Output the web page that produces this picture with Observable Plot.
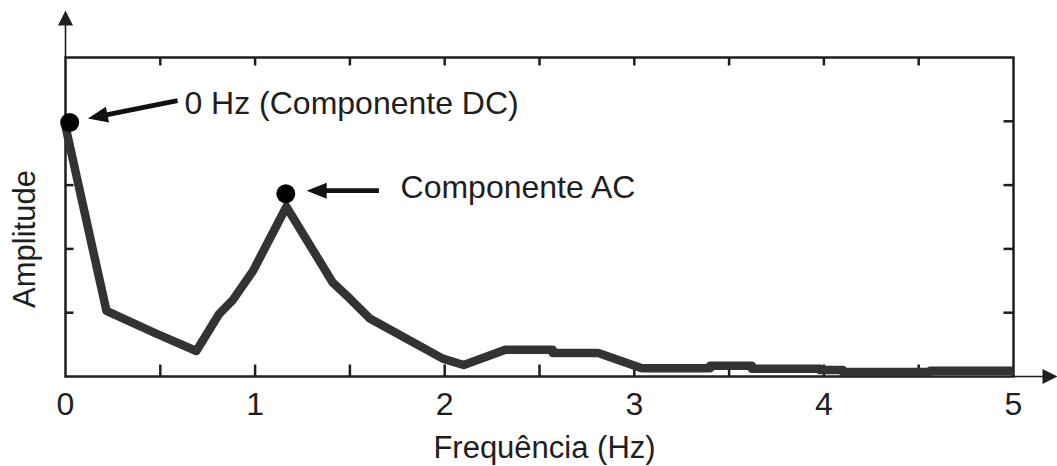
<!DOCTYPE html>
<html><head><meta charset="utf-8">
<script src="https://cdn.jsdelivr.net/npm/d3@7"></script>
<script src="https://cdn.jsdelivr.net/npm/@observablehq/plot@0.6"></script>
<style>body{margin:0;background:#fff;}</style>
</head><body><div id="chart"></div>
<script>
// Spectrum curve
const freq = [0, 0.216, 0.48, 0.69, 0.81, 0.88, 0.99, 1.165, 1.41, 1.50, 1.605, 1.99, 2.10, 2.32, 2.57, 2.57, 2.81, 3.04, 3.40, 3.40, 3.62, 3.62, 3.98, 3.98, 4.10, 4.10, 4.56, 4.56, 5.0];
const amp  = [3.92, 1.03, 0.67, 0.40, 0.98, 1.19, 1.66, 2.66, 1.47, 1.22, 0.91, 0.28, 0.18, 0.42, 0.42, 0.37, 0.37, 0.13, 0.13, 0.17, 0.17, 0.12, 0.12, 0.10, 0.10, 0.07, 0.07, 0.09, 0.09];
// Highlighted points
const dotFreq = [0.022, 1.162];
const dotAmp = [3.98, 2.865];
// Annotations
const labels = ["0 Hz (Componente DC)", "Componente AC"];
const labelFreq = [0.627, 1.767];
const labelAmp = [4.278, 2.962];
const arrowTipFreq = [0.118, 1.272];
const arrowTipAmp = [4.042, 2.912];
const arrowTailFreq = [0.591, 1.653];
const arrowTailAmp = [4.325, 2.912];
// Axes
const xTickLabels = [0, 1, 2, 3, 4, 5];
const xMinorTicks = [0.5, 1, 1.5, 2, 2.5, 3, 3.5, 4, 4.5];
const yMinorTicks = [1, 2, 3, 4];
const xLabel = "Frequência (Hz)";
const yLabel = "Amplitude";

const W = 1057, H = 466;
const M = {top: 57, right: 44, bottom: 90, left: 65};
const kx = (W - M.left - M.right) / 5;
const ky = (H - M.top - M.bottom) / 5;
const ink = "#1e1e1e";
const font = "Arial, 'Liberation Sans', Helvetica, sans-serif";

function arrowShape(shaft, headLen, headHalf) {
  return {draw(c, l) {
    c.moveTo(-shaft, 0);
    c.lineTo(-shaft, -l + headLen);
    c.lineTo(-headHalf, -l + headLen);
    c.lineTo(0, -l);
    c.lineTo(headHalf, -l + headLen);
    c.lineTo(shaft, -l + headLen);
    c.lineTo(shaft, 0);
    c.closePath();
  }};
}
const lineShape = {draw(c, l) { c.moveTo(0, 0); c.lineTo(0, -l); }};

const curve = freq.map((f, i) => ({f, a: amp[i]}));
const dots = dotFreq.map((f, i) => ({f, a: dotAmp[i]}));

const annArrows = arrowTipFreq.map((fx, i) => {
  const vx = (fx - arrowTailFreq[i]) * kx;
  const vy = -(arrowTipAmp[i] - arrowTailAmp[i]) * ky;
  const len = Math.hypot(vx, vy);
  const rot = Math.atan2(vx, -vy) * 180 / Math.PI;
  return Plot.vector([{f: fx, a: arrowTipAmp[i]}], {
    x: "f", y: "a", length: len, rotate: rot, anchor: "end",
    shape: arrowShape(2.4, 20, 8), fill: "#111", stroke: "none"
  });
});

const tickStyle = {shape: lineShape, anchor: "start", stroke: ink, strokeWidth: 2.5, strokeLinecap: "butt", fill: "none"};

const chart = Plot.plot({
  width: W, height: H,
  marginTop: M.top, marginRight: M.right, marginBottom: M.bottom, marginLeft: M.left,
  x: {domain: [0, 5], axis: null},
  y: {domain: [0, 5], axis: null},
  style: {fontFamily: font, background: "#fff", color: ink, overflow: "visible"},
  marks: [
    Plot.frame({stroke: ink, strokeWidth: 2.5}),
    // inward ticks
    Plot.vector(xMinorTicks, {...tickStyle, x: d => d, frameAnchor: "bottom", length: 12, rotate: 0}),
    Plot.vector(xMinorTicks, {...tickStyle, x: d => d, frameAnchor: "top", length: 8, rotate: 180}),
    Plot.vector(yMinorTicks, {...tickStyle, y: d => d, frameAnchor: "left", length: 8, rotate: 90}),
    Plot.vector(yMinorTicks, {...tickStyle, y: d => d, frameAnchor: "right", length: 10, rotate: -90}),
    // axis arrows
    Plot.vector([0], {frameAnchor: "top-left", length: 47, rotate: 0, anchor: "start", shape: arrowShape(0.8, 15, 7.5), fill: ink, stroke: "none"}),
    Plot.vector([0], {frameAnchor: "bottom-right", length: 44, rotate: 90, anchor: "start", shape: arrowShape(0.8, 15, 7.5), fill: ink, stroke: "none"}),
    // curve
    Plot.line(curve, {x: "f", y: "a", stroke: "#333", strokeWidth: 8.5, strokeLinejoin: "round", strokeLinecap: "butt"}),
    Plot.dot(dots, {x: "f", y: "a", r: 9.5, fill: "#000", stroke: "none"}),
    ...annArrows,
    Plot.text(labels, {x: (d, i) => labelFreq[i], y: (d, i) => labelAmp[i], text: d => d, textAnchor: "start", lineAnchor: "middle", fontSize: 32, fill: ink}),
    // tick labels
    Plot.text(xTickLabels, {x: d => d, text: d => `${d}`, frameAnchor: "bottom", lineAnchor: "top", dy: 16, fontSize: 32, fill: ink}),
    // axis titles
    Plot.text([xLabel], {text: d => d, frameAnchor: "bottom", textAnchor: "middle", lineAnchor: "middle", dy: 72, dx: 5, fontSize: 31, fill: ink}),
    Plot.text([yLabel], {text: d => d, frameAnchor: "left", textAnchor: "middle", lineAnchor: "middle", rotate: -90, dx: -40, dy: 22, fontSize: 31, fill: ink})
  ]
});
document.getElementById("chart").appendChild(chart);
</script>
</body></html>
